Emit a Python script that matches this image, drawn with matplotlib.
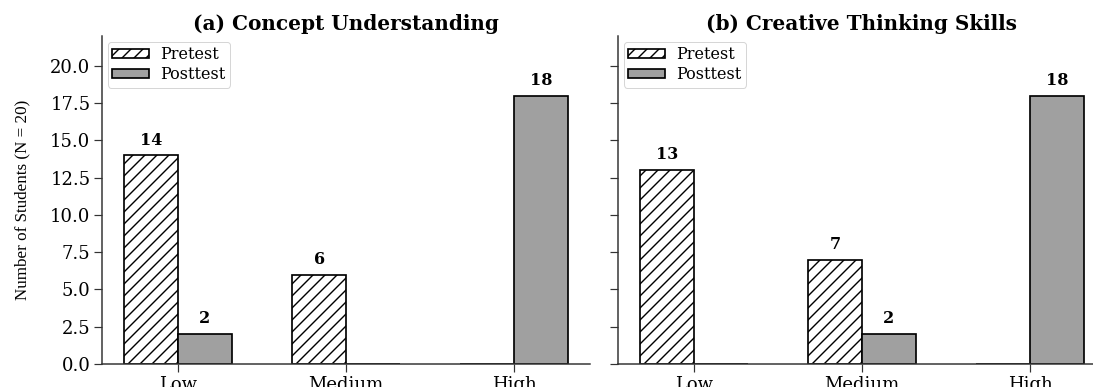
import matplotlib
matplotlib.use("Agg")
import matplotlib.pyplot as plt
import numpy as np

levels = ["Low", "Medium", "High"]
concept_pre = [14, 6, 0]
concept_post = [2, 0, 18]
creative_pre = [13, 7, 0]
creative_post = [0, 2, 18]
titles = ["(a) Concept Understanding", "(b) Creative Thinking Skills"]

plt.rcParams["font.family"] = "DejaVu Serif"
plt.rcParams["hatch.linewidth"] = 1.4

fig = plt.figure(figsize=(1093 / 72, 387 / 72), dpi=72)
ax1 = fig.add_axes([0.0933, 0.0594, 0.4465, 0.8475])
ax2 = fig.add_axes([0.5654, 0.0594, 0.4465, 0.8475], sharey=ax1)

width = 0.32
x = np.arange(len(levels))

panels = [(ax1, concept_pre, concept_post), (ax2, creative_pre, creative_post)]
for i in range(len(panels)):
    ax, pre, post = panels[i]
    b1 = ax.bar(x - width / 2, pre, width, color="white", edgecolor="black",
                hatch="//", linewidth=1.7, label="Pretest")
    b2 = ax.bar(x + width / 2, post, width, color="#a0a0a0", edgecolor="black",
                linewidth=1.7, label="Posttest")
    for bars, vals in [(b1, pre), (b2, post)]:
        for bar, v in zip(bars, vals):
            if v > 0:
                ax.text(bar.get_x() + bar.get_width() / 2, v + 0.45, str(v),
                        ha="center", va="bottom", fontsize=16, fontweight="bold")
    ax.set_xticks(x)
    ax.set_xticklabels(levels, fontsize=18)
    ax.set_title(titles[i], fontsize=20, fontweight="bold", pad=6)
    ax.spines["top"].set_visible(False)
    ax.spines["right"].set_visible(False)
    for s in ["left", "bottom"]:
        ax.spines[s].set_linewidth(1.5)
        ax.spines[s].set_color("#333333")
    ax.tick_params(axis="both", length=8, width=1.2, color="#333333", labelsize=18)
    ax.legend(loc="upper left", fontsize=16, handlelength=2.3, handleheight=0.5,
              borderaxespad=0.35, labelspacing=0.15, borderpad=0.3, handletextpad=0.7)

ax1.set_ylim(0, 22)
ax1.set_yticks(np.arange(0, 22, 2.5))
ax1.set_ylabel("Number of Students (N = 20)", fontsize=17, family="Liberation Serif", labelpad=20)
plt.setp(ax2.get_yticklabels(), visible=False)

fig.savefig("out.png", dpi=72)
